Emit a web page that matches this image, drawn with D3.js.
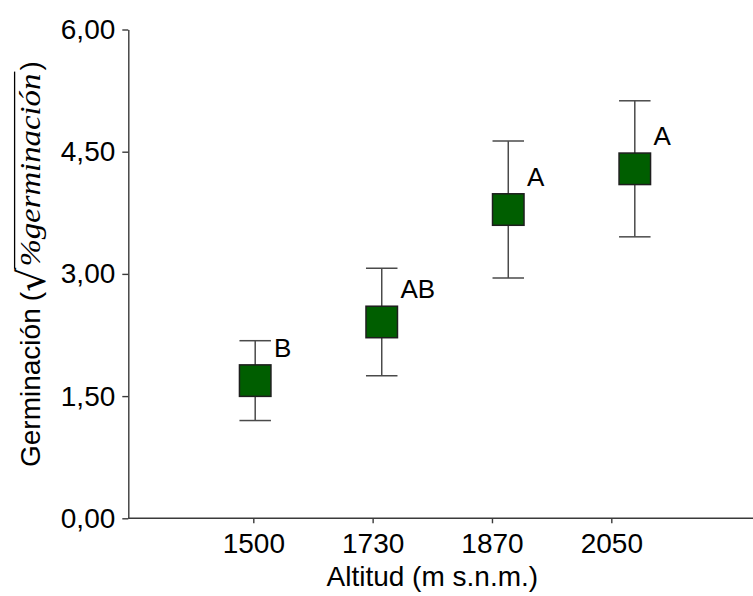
<!DOCTYPE html>
<html>
<head>
<meta charset="utf-8">
<script src="https://cdn.jsdelivr.net/npm/d3@7"></script>
<style>
  html, body { margin: 0; padding: 0; background: #fff; }
  svg { display: block; }
  text { font-family: "Liberation Sans", Arial, sans-serif; fill: #000; }
</style>
</head>
<body>
<svg id="chart" width="753" height="596"></svg>
<script>
// Germination by altitude: mean (square) with error bars and Tukey letters
const categories = ["1500", "1730", "1870", "2050"];
const means = [1.69, 2.41, 3.79, 4.29];
const errors = [0.49, 0.66, 0.84, 0.835];
const letters = ["B", "AB", "A", "A"];
const yTicks = [0, 1.5, 3, 4.5, 6];

const svg = d3.select("#chart");
const W = 753;

const axisX = 128.3;
const y = d3.scaleLinear().domain([0, 6]).range([518.3, 29.5]);
const xTick = d3.scalePoint().domain(categories).range([253.3, 611.3]);
const xMark = d3.scalePoint().domain(categories).range([255.2, 634.8]);

const fmt = v => d3.format(".2f")(v).replace(".", ",");
const box = 31.5;
const axisColor = "#3a3a3a";

// y axis
const gy = svg.append("g")
  .attr("transform", `translate(${axisX},0)`)
  .call(d3.axisLeft(y).tickValues(yTicks).tickFormat(fmt).tickSize(6).tickSizeOuter(0).tickPadding(7));
gy.selectAll("text").style("font-size", "28px").attr("fill", "#000");
gy.selectAll("line, path").attr("stroke", axisColor).attr("stroke-width", 1.4);

// x axis
const gx = svg.append("g")
  .attr("transform", `translate(0,${y(0)})`)
  .call(d3.axisBottom(xTick).tickSize(5).tickPadding(10));
gx.select(".domain").remove();
gx.append("line").attr("x1", axisX).attr("x2", W).attr("y1", 0).attr("y2", 0);
gx.selectAll("line").attr("stroke", axisColor).attr("stroke-width", 1.4);
gx.selectAll(".tick text").style("font-size", "28px").attr("fill", "#000");

// x title
svg.append("text")
  .attr("x", (xTick(categories[0]) + xTick(categories[categories.length - 1])) / 2)
  .attr("y", 586)
  .attr("text-anchor", "middle")
  .style("font-size", "28px")
  .text("Altitud (m s.n.m.)");

// error bars, mean squares and group letters
const g = svg.append("g");
categories.forEach((c, i) => {
  const cx = xMark(c);
  const top = y(means[i] + errors[i]);
  const bot = y(means[i] - errors[i]);
  const cap = box / 2;
  const whisker = { stroke: "#4a4a4a", w: 1.5 };
  g.append("line").attr("x1", cx).attr("x2", cx).attr("y1", top).attr("y2", bot)
    .attr("stroke", whisker.stroke).attr("stroke-width", whisker.w);
  [top, bot].forEach(yy => {
    g.append("line").attr("x1", cx - cap).attr("x2", cx + cap).attr("y1", yy).attr("y2", yy)
      .attr("stroke", whisker.stroke).attr("stroke-width", whisker.w);
  });
  g.append("rect")
    .attr("x", cx - box / 2).attr("y", y(means[i]) - box / 2)
    .attr("width", box).attr("height", box)
    .attr("fill", "#005e00").attr("stroke", "#1e1e1e").attr("stroke-width", 1.5);
  g.append("text")
    .attr("x", cx + box / 2 + 3)
    .attr("y", y(means[i]) - box / 2 - 8)
    .style("font-size", "26px")
    .text(letters[i]);
});

// y title: "Germinación (√%germinación)" read bottom to top
const ty = svg.append("g").attr("transform", "translate(40,0) rotate(-90)");
let pos = -467;
const t1 = ty.append("text").attr("x", pos).attr("y", 0).style("font-size", "28px").text("Germinación");
pos += t1.node().getComputedTextLength() + 7;
const t2 = ty.append("text").attr("x", pos).attr("y", 0).style("font-size", "28px").text("(");
pos += t2.node().getComputedTextLength() + 1;

// size the radical from its ink box so its top meets the vinculum
const barY = -26, rootBottom = 6;
const ctx = document.createElement("canvas").getContext("2d");
ctx.font = "100px 'DejaVu Serif'";
const m = ctx.measureText("√");
const inkH = (m.actualBoundingBoxAscent + m.actualBoundingBoxDescent) || 100;
const rootSize = 100 * (rootBottom - barY) / inkH;
const k = rootSize / 100;
const rootBase = barY + m.actualBoundingBoxAscent * k;
const rootLeft = pos - (m.actualBoundingBoxLeft ? -m.actualBoundingBoxLeft * k : 0);
const t3 = ty.append("text").attr("x", rootLeft).attr("y", rootBase)
  .style("font-family", "DejaVu Serif, serif").style("font-size", rootSize + "px").text("√");
const rootRight = rootLeft + m.actualBoundingBoxRight * k;
pos = rootRight + 1;

const italicLen = 193;
ty.append("text").attr("x", pos).attr("y", 0)
  .style("font-family", "Liberation Serif, 'Times New Roman', serif")
  .style("font-style", "italic").style("font-size", "30px")
  .attr("textLength", italicLen).attr("lengthAdjust", "spacingAndGlyphs")
  .text("%germinación");
pos += italicLen + 2;
ty.append("line").attr("x1", rootRight - 1).attr("x2", pos).attr("y1", barY + 0.6).attr("y2", barY + 0.6)
  .attr("stroke", "#000").attr("stroke-width", 1.3);
ty.append("text").attr("x", pos + 1).attr("y", 0).style("font-size", "28px").text(")");
</script>
</body>
</html>
